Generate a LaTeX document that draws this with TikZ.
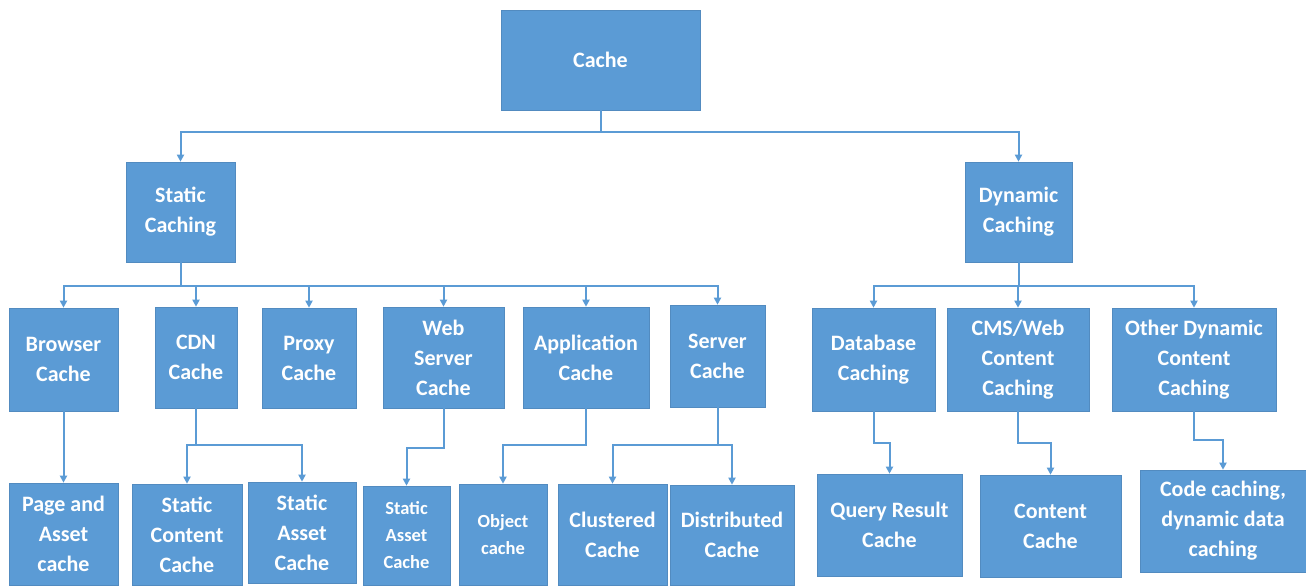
\documentclass[tikz,border=0pt]{standalone}
\usepackage{fontspec}
\setmainfont{Carlito}
\usetikzlibrary{arrows.meta}
\definecolor{boxblue}{HTML}{5B9BD5}
\definecolor{lineblue}{HTML}{5B9BD5}
\tikzset{
  box/.style={fill=boxblue, draw=boxblue!90!black, line width=0.6pt, text=white, align=center, inner sep=0pt,
    font=\bfseries\fontsize{22}{30}\selectfont},
  smallbox/.style={box, font=\bfseries\fontsize{18.5}{27}\selectfont},
  conn/.style={draw=lineblue, line width=2pt},
  arr/.style={conn, -{Triangle[length=7pt,width=7pt]}},
}
\newcommand{\bx}[6][box]{\node[#1, minimum width=#4pt, minimum height=#5pt] (#2) at (#3) {#6};}
\begin{document}
\begin{tikzpicture}[x=1pt,y=-1pt]
\path[use as bounding box] (0,0) rectangle (1306,586);
% level 0
\bx{cache}{600.5,60}{199}{100}{Cache}
% level 1
\bx{static}{180.5,212}{109}{100}{Static\\Caching}
\bx{dynamic}{1018.5,212}{107}{100}{Dynamic\\Caching}
% level 2
\bx{browser}{63.5,359.5}{109}{103}{Browser\\Cache}
\bx{cdn}{196,357.5}{82}{101}{CDN\\Cache}
\bx{proxy}{309,358}{94}{100}{Proxy\\Cache}
\bx{web}{443.5,357.5}{121}{101}{Web\\Server\\Cache}
\bx{app}{586,357.5}{126}{101}{Application\\Cache}
\bx{server}{717.5,356}{95}{102}{Server\\Cache}
\bx{db}{873.5,359.5}{123}{103}{Database\\Caching}
\bx{cms}{1018,359.5}{142}{103}{CMS/Web\\Content\\Caching}
\bx{other}{1194,359.5}{164}{103}{Other Dynamic\\Content\\Caching}
% level 3
\bx{page}{63.5,534}{109}{102}{Page and\\Asset\\cache}
\bx{scontent}{187,534.5}{110}{101}{Static\\Content\\Cache}
\bx{sasseta}{302,532.5}{108}{101}{Static\\Asset\\Cache}
\bx[smallbox]{sassetb}{406.5,535.5}{87}{99}{Static\\Asset\\Cache}
\bx[smallbox]{object}{503,534.5}{88}{101}{Object\\cache}
\bx{clustered}{612.5,534.5}{109}{101}{Clustered\\Cache}
\bx{distributed}{732,535}{124}{100}{Distributed\\Cache}
\bx{query}{889.5,525}{145}{102}{Query Result\\Cache}
\bx{content}{1050.5,526}{141}{102}{Content\\Cache}
\bx{code}{1223,521}{166}{102}{Code caching,\\dynamic data\\caching}
% connectors level 0 -> 1
\foreach \c in {static,dynamic}
  \draw[arr] (cache.south) -- (cache.south |- 0,132) -| (\c.north);
% static -> level 2
\foreach \c in {browser,cdn,proxy,web,app,server}
  \draw[arr] (static.south) -- (static.south |- 0,286) -| (\c.north);
% dynamic -> level 2
\foreach \c in {db,cms,other}
  \draw[arr] (dynamic.south) -- (dynamic.south |- 0,286) -| (\c.north);
% level 2 -> level 3
\draw[arr] (browser.south) -- (page.north);
\foreach \c in {scontent,sasseta}
  \draw[arr] (cdn.south) -- (cdn.south |- 0,445) -| (\c.north);
\draw[arr] (web.south) -- (web.south |- 0,448) -| (sassetb.north);
\draw[arr] (app.south) -- (app.south |- 0,445) -| (object.north);
\foreach \c in {clustered,distributed}
  \draw[arr] (server.south) -- (server.south |- 0,445) -| (\c.north);
\draw[arr] (db.south) -- (db.south |- 0,443) -| (query.north);
\draw[arr] (cms.south) -- (cms.south |- 0,443) -| (content.north);
\draw[arr] (other.south) -- (other.south |- 0,440) -| (code.north);
\end{tikzpicture}
\end{document}
